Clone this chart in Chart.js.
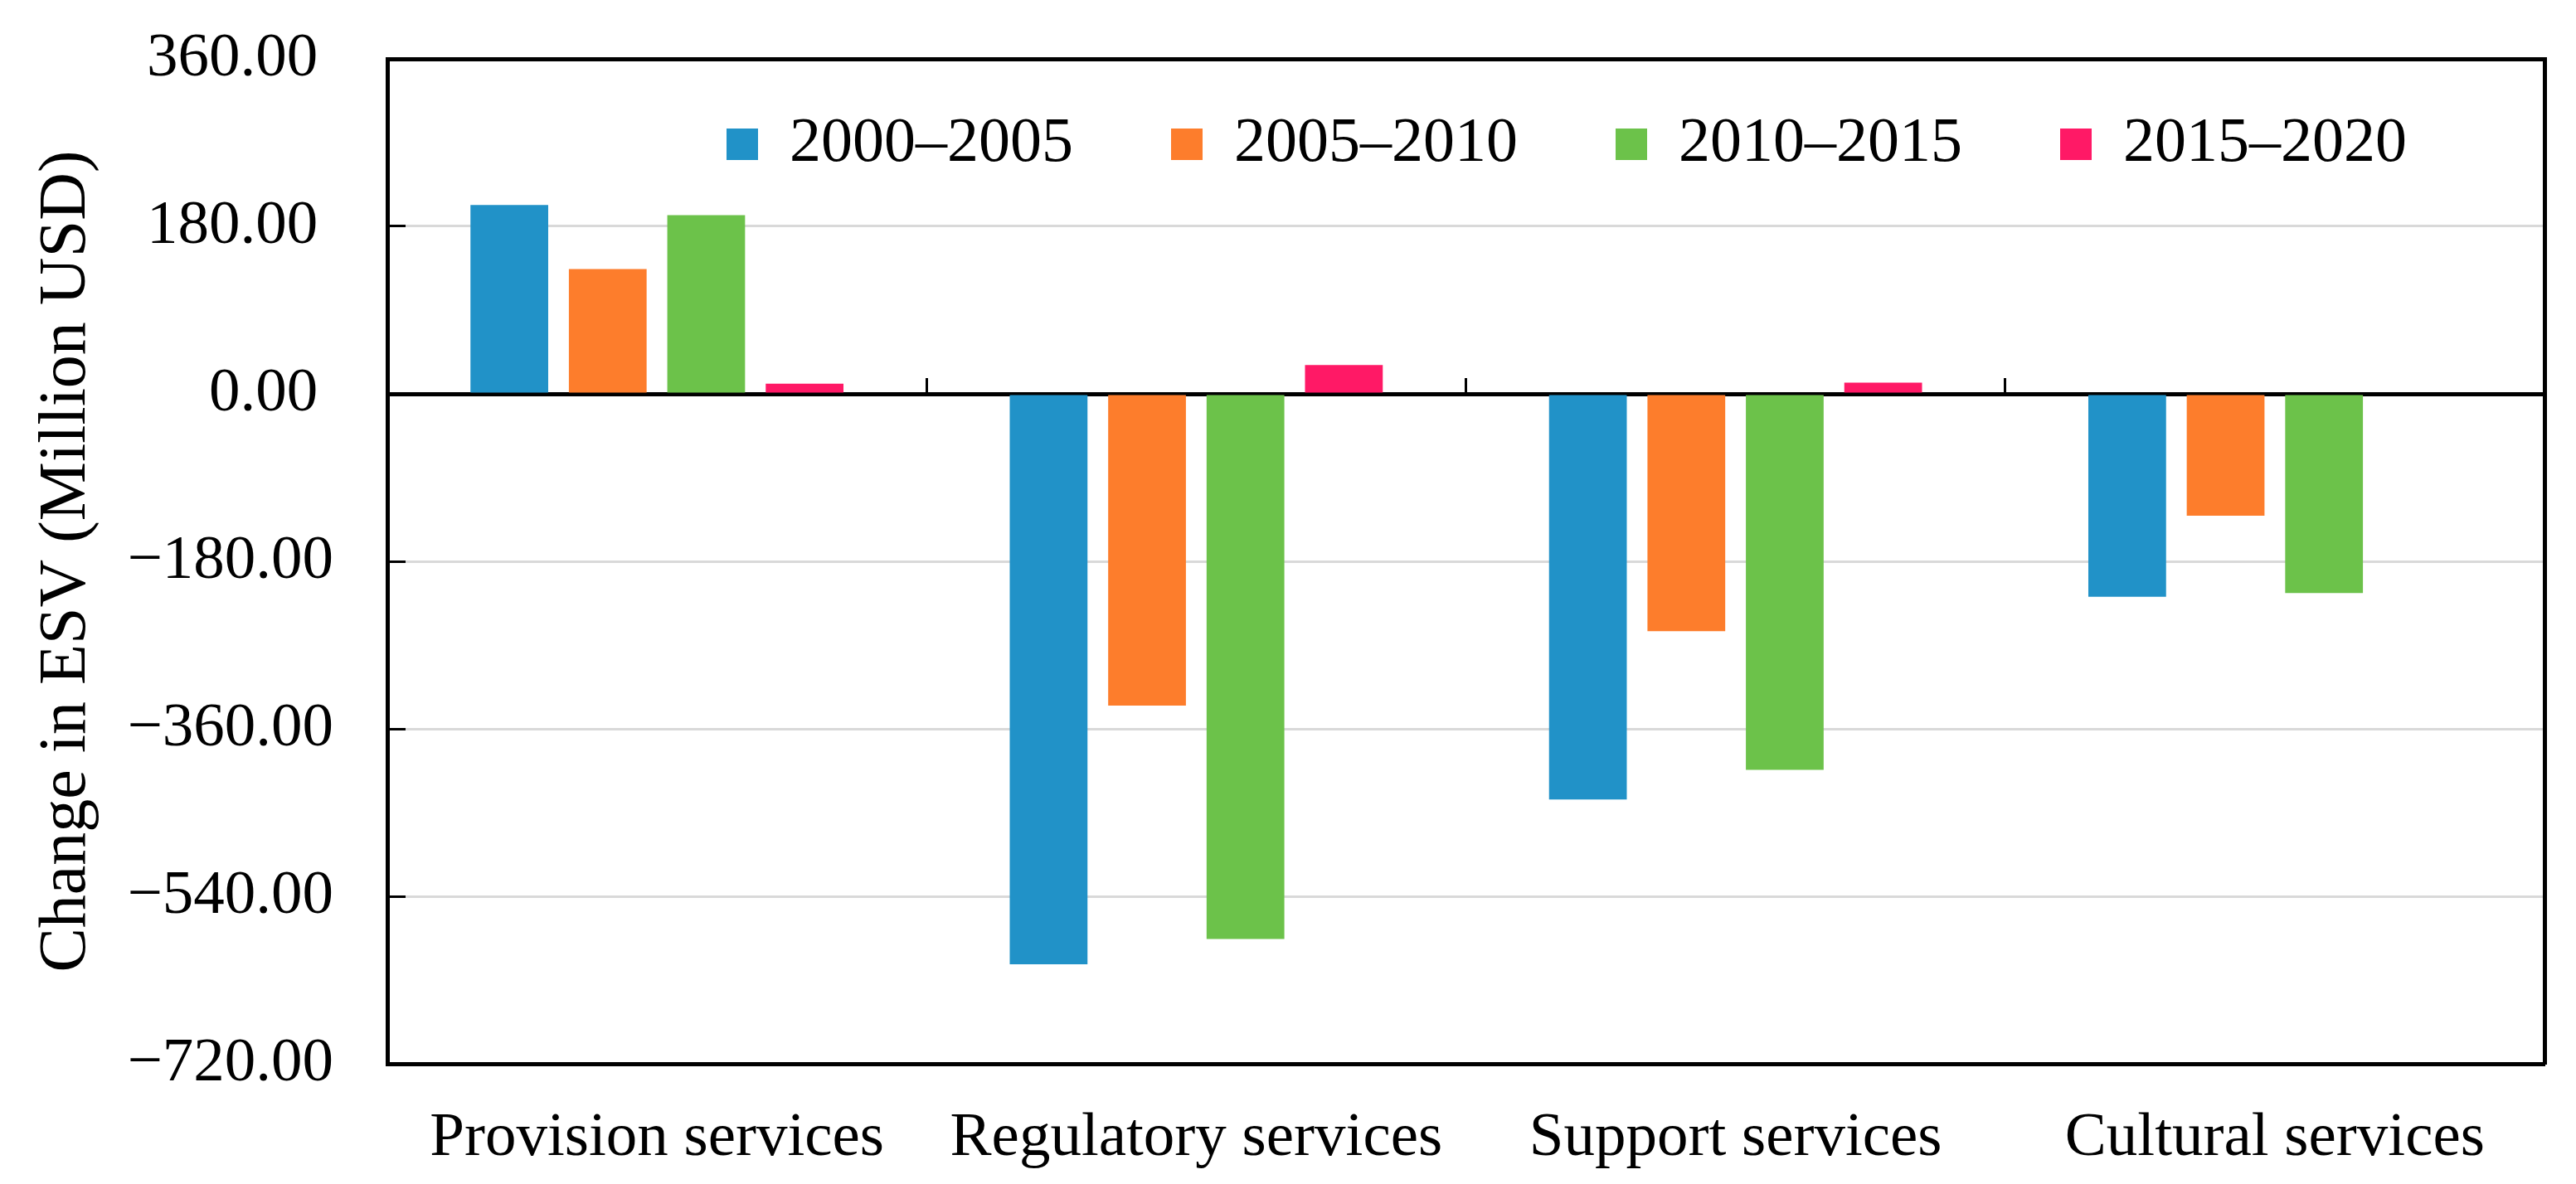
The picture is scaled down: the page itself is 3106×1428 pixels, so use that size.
<!DOCTYPE html>
<html>
<head>
<meta charset="utf-8">
<script src="https://cdn.jsdelivr.net/npm/chart.js@4/dist/chart.umd.min.js"></script>
<style>
  html, body { margin: 0; padding: 0; background: #ffffff; }
  #wrap { width: 3106px; height: 1428px; position: relative; }
  canvas { display: block; }
</style>
</head>
<body>
<div id="wrap"><canvas id="c" width="3106" height="1428"></canvas></div>
<script>
// ---- data ----
const categories = ['Provision services', 'Regulatory services', 'Support services', 'Cultural services'];
const seriesLabels = ['2000–2005', '2005–2010', '2010–2015', '2015–2020'];
const values2000_2005 = [203, -613, -436, -218];
const values2005_2010 = [134, -335, -255, -131];
const values2010_2015 = [192, -586, -404, -214];
const values2015_2020 = [11, 31, 12, 0];
const yTicks = [360, 180, 0, -180, -360, -540, -720];
const yTickLabels = ['360.00', '180.00', '0.00', '−180.00', '−360.00', '−540.00', '−720.00'];
const yTitle = 'Change in ESV (Million USD)';

// ---- styles ----
const FONT = "'Liberation Serif', 'Times New Roman', serif";
const colors = ['#2192C8', '#FD7D2C', '#6CC24A', '#FF1966'];
const seriesValues = [values2000_2005, values2005_2010, values2010_2015, values2015_2020];
const PLOT_TOP = 71;

Chart.defaults.font.family = FONT;
Chart.defaults.color = '#000000';

// Move the legend inside the plot box (as in the reference)
const legendInside = {
  id: 'legendInside',
  afterLayout(chart) {
    const lg = chart.legend;
    const ca = chart.chartArea;
    if (!lg) return;
    const pad = lg.options.labels.padding;
    lg.left = ca.left + 409 - pad;
    lg.right = chart.width;
    lg.width = lg.right - lg.left;
    lg.top = ca.top + 65 - pad;
    lg.bottom = lg.top + 2 * pad + 120;
    lg.height = lg.bottom - lg.top;
  }
};

const datasets = seriesLabels.map((name, i) => ({
  label: name,
  data: seriesValues[i],
  backgroundColor: colors[i],
  borderWidth: 0,
  categoryPercentage: 0.73,
  barPercentage: 0.79
}));

const chart = new Chart(document.getElementById('c'), {
  type: 'bar',
  data: { labels: categories, datasets },
  plugins: [legendInside],
  options: {
    responsive: false,
    animation: false,
    devicePixelRatio: 1,
    layout: { padding: { top: 70, right: 38, bottom: 0, left: 0 } },
    plugins: {
      tooltip: { enabled: false },
      legend: {
        position: 'top',
        align: 'start',
        maxHeight: 1,
        labels: {
          boxWidth: 38,
          boxHeight: 38,
          padding: 118,
          color: '#000000',
          font: { family: FONT, size: 76 }
        }
      }
    },
    scales: {
      x: {
        type: 'category',
        position: 'bottom',
        offset: true,
        grid: { drawOnChartArea: false, drawTicks: false, offset: true },
        border: { display: true, color: '#000000', width: 5 },
        ticks: {
          color: '#000000',
          font: { family: FONT, size: 75 },
          padding: 45,
          maxRotation: 0,
          autoSkip: false
        },
        afterFit(scale) { scale.height = 145; }
      },
      xTop: {
        axis: 'x',
        type: 'category',
        position: 'top',
        offset: true,
        grid: { drawOnChartArea: false, drawTicks: false },
        border: { display: true, color: '#000000', width: 5 },
        ticks: { display: false },
        afterFit(scale) { scale.height = 0; }
      },
      xZero: {
        axis: 'x',
        type: 'category',
        position: { y: 0 },
        offset: true,
        z: 1,
        grid: {
          drawOnChartArea: false,
          drawTicks: true,
          offset: true,
          tickLength: -22,
          tickColor: '#000000',
          tickWidth: 3,
          color: '#000000'
        },
        border: { display: true, color: '#000000', width: 5 },
        ticks: { display: false }
      },
      y: {
        type: 'linear',
        position: 'left',
        min: -720,
        max: 360,
        afterBuildTicks(scale) { scale.ticks = yTicks.slice().reverse().map(v => ({ value: v })); },
        afterFit(scale) {
          scale.width = 467;
          scale.paddingTop = 45;
          scale.paddingBottom = 45;
        },
        grid: {
          color: '#d9d9d9',
          lineWidth: 3,
          drawTicks: true,
          tickLength: -22,
          tickColor: '#000000',
          tickWidth: 3
        },
        border: { display: true, color: '#000000', width: 5 },
        ticks: {
          color: '#000000',
          font: { family: FONT, size: 75 },
          padding: 87,
          callback(value) {
            const idx = yTicks.indexOf(value);
            const txt = idx >= 0 ? yTickLabels[idx] : String(value);
            return value >= 0 ? txt + ' ' : txt;
          }
        },
        title: {
          display: true,
          text: yTitle,
          color: '#000000',
          font: { family: FONT, size: 80 },
          padding: { top: 33, bottom: 0 }
        }
      },
      y2: {
        axis: 'y',
        type: 'linear',
        position: 'right',
        min: -720,
        max: 360,
        grid: { drawOnChartArea: false, drawTicks: false },
        border: { display: true, color: '#000000', width: 5 },
        ticks: { display: false },
        afterFit(scale) { scale.width = 0; }
      }
    }
  }
});

// keep the plot box top where the reference has it
const dy = PLOT_TOP - chart.chartArea.top;
if (Math.abs(dy) > 0.5) {
  chart.options.layout.padding.top += dy;
  chart.update();
}
</script>
</body>
</html>
